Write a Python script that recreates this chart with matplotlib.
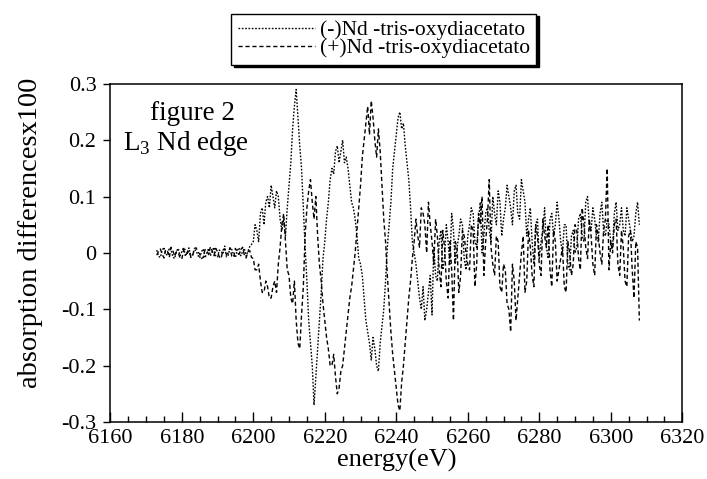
"""L3 Nd edge absorption difference of the two tris-oxydiacetato enantiomers."""

import matplotlib

matplotlib.use("Agg")
import matplotlib.pyplot as plt
import numpy as np
from matplotlib.ticker import FuncFormatter, MultipleLocator

# scan runs 6173 -> 6308 eV in 0.5 eV steps; the readings are split into
# whole-eV points and the half-eV points between them
E_START, E_STOP = 6173, 6308

# (-)Nd -tris-oxydiacetato, whole eV
minus_nd = [
    0.005, -0.008, 0.010, -0.004, 0.006, -0.010, 0.008, 0.002, -0.006, 0.009,
    -0.003, 0.004, -0.009, 0.007, 0.000, -0.005, 0.010, -0.007, 0.003, 0.012,
    -0.004, 0.006, -0.008, 0.009, 0.002, -0.006, 0.011,
    0.02, 0.04, 0.07, 0.05, 0.10, 0.12, 0.08, 0.10, 0.04, 0.03,
    0.12, 0.22, 0.29, 0.19, 0.08, -0.05, -0.16, -0.27, -0.17, -0.07,
    0.02, 0.09, 0.15, 0.18, 0.16, 0.20, 0.17, 0.12, 0.08, 0.03,
    -0.02, -0.08, -0.14, -0.19, -0.17, -0.21, -0.13, -0.05, 0.05, 0.15,
    0.21, 0.25, 0.23, 0.16, 0.08, 0.00,
    -0.05, -0.10, -0.12, -0.07, -0.11, -0.04, 0.02, -0.03, 0.05, -0.02,
    0.04, 0.01, 0.06, -0.01, 0.03, 0.08, 0.02, 0.06, 0.00, 0.07,
    0.04, 0.10, 0.05, 0.09, 0.06, 0.12, 0.08, 0.11, 0.07, 0.13,
    0.09, 0.06, 0.02, 0.05, -0.01, 0.04, 0.01, 0.06, 0.03, 0.09,
    0.02, 0.05, -0.02, 0.03, 0.00, 0.06, 0.03, 0.09, 0.05, 0.08,
    0.03, 0.07, 0.04, 0.06, 0.02, 0.07, 0.04, 0.08, 0.03, 0.06,
    0.02, 0.07, 0.05,
]
# (-)Nd, half eV
minus_nd_half = [
    -0.006, 0.004, -0.002, 0.009, -0.007, 0.003, -0.005, 0.010, 0.001, -0.008,
    0.006, -0.004, 0.002, -0.009, 0.008, 0.003, -0.006, 0.005, -0.002, -0.007,
    0.009, -0.003, 0.004, -0.005, 0.008, 0.003, 0.015,
    0.05, 0.02, 0.08, 0.09, 0.08, 0.10, 0.11, 0.06, 0.06, 0.08,
    0.16, 0.26, 0.24, 0.15, 0.01, -0.12, -0.20, -0.22, -0.12, -0.01,
    0.06, 0.13, 0.14, 0.19, 0.18, 0.16, 0.15, 0.09, 0.06, -0.01,
    -0.04, -0.12, -0.16, -0.15, -0.20, -0.16, -0.10, 0.01, 0.09, 0.18,
    0.24, 0.22, 0.19, 0.13, 0.02,
    -0.02, -0.08, -0.06, -0.10, -0.04, 0.01, -0.05, 0.04, -0.01, 0.02,
    0.07, -0.02, 0.03, 0.05, -0.03, 0.05, 0.07, 0.01, 0.09, 0.03,
    0.08, 0.02, 0.07, 0.11, 0.03, 0.08, 0.10, 0.05, 0.12, 0.06,
    0.11, 0.03, 0.08, -0.02, 0.06, 0.02, 0.08, -0.01, 0.07, 0.05,
    0.06, 0.00, 0.05, -0.03, 0.04, 0.01, 0.07, 0.02, 0.10, 0.04,
    0.06, 0.02, 0.09, 0.03, 0.05, 0.01, 0.09, 0.05, 0.04, 0.08,
    0.04, 0.03, 0.09,
]

# (+)Nd -tris-oxydiacetato, whole eV
plus_nd = [
    -0.004, 0.007, -0.009, 0.003, 0.010, -0.006, 0.001, -0.011, 0.006, 0.004,
    -0.007, 0.009, -0.002, -0.008, 0.005, 0.011, -0.005, 0.002, -0.010, 0.007,
    0.000, -0.006, 0.008, -0.003, 0.010, -0.009, 0.004,
    -0.01, -0.03, -0.05, -0.07, -0.06, -0.08, -0.05, -0.02, 0.05, 0.02,
    -0.04, -0.09, -0.12, -0.17, -0.06, 0.08, 0.13, 0.06, 0.03, -0.05,
    -0.12, -0.17, -0.20, -0.22, -0.24, -0.20, -0.14, -0.08, -0.03, 0.04,
    0.12, 0.20, 0.26, 0.27, 0.20, 0.22, 0.12, 0.02, -0.09, -0.18,
    -0.24, -0.28, -0.20, -0.12, -0.05, 0.02,
    0.03, 0.08, 0.05, 0.09, 0.02, 0.06, -0.03, 0.04, -0.05, 0.02,
    -0.12, 0.01, -0.04, 0.03, -0.02, 0.05, -0.06, 0.07, 0.10, 0.02,
    0.13, -0.02, 0.03, -0.06, -0.02, -0.09, -0.14, -0.05, -0.08, 0.00,
    -0.07, 0.04, -0.04, 0.05, -0.02, 0.06, 0.01, -0.03, 0.04, -0.05,
    -0.01, -0.06, 0.02, -0.04, 0.05, -0.01, 0.08, 0.01, 0.06, -0.02,
    0.05, 0.00, 0.04, 0.15, 0.02, 0.05, -0.02, 0.04, -0.05, 0.03,
    -0.03, 0.02, -0.12,
]
# (+)Nd, half eV
plus_nd_half = [
    0.003, -0.002, 0.006, -0.008, 0.004, 0.002, -0.009, 0.005, -0.001, -0.006,
    0.008, 0.002, -0.010, 0.006, -0.003, 0.004, 0.008, -0.007, 0.005, -0.003,
    0.009, -0.008, 0.001, 0.006, -0.004, 0.002, -0.008,
    -0.03, -0.02, -0.07, -0.05, -0.08, -0.06, -0.07, 0.01, 0.07, -0.03,
    -0.08, -0.05, -0.16, -0.11, 0.03, 0.11, 0.09, 0.10, -0.02, -0.09,
    -0.15, -0.20, -0.18, -0.25, -0.21, -0.17, -0.11, -0.06, 0.00, 0.08,
    0.17, 0.23, 0.21, 0.24, 0.17, 0.18, 0.06, -0.04, -0.14, -0.21,
    -0.27, -0.23, -0.16, -0.08, -0.01,
    0.06, 0.01, 0.07, 0.00, 0.05, -0.02, 0.03, -0.06, 0.01, -0.08,
    -0.03, 0.02, -0.07, 0.04, 0.00, -0.03, 0.04, -0.02, 0.05, -0.04,
    0.06, 0.01, -0.04, 0.02, -0.07, -0.03, -0.10, -0.02, -0.12, -0.04,
    0.03, -0.05, 0.01, -0.06, 0.03, -0.04, 0.03, 0.05, -0.06, 0.02,
    -0.03, 0.01, -0.07, 0.00, -0.02, 0.04, -0.03, 0.05, -0.01, 0.03,
    -0.04, 0.03, -0.02, 0.06, -0.03, 0.00, 0.06, -0.04, 0.01, -0.06,
    0.04, -0.08, 0.01,
]

labels = ["(-)Nd -tris-oxydiacetato", "(+)Nd -tris-oxydiacetato"]


def merge(whole: list[float], half: list[float]) -> np.ndarray:
    values = np.empty(len(whole) + len(half))
    values[0::2] = whole
    values[1::2] = half
    return values


def main() -> None:
    plt.rcParams["font.family"] = ["Liberation Serif", "DejaVu Serif"]
    plt.rcParams["mathtext.fontset"] = "custom"
    plt.rcParams["mathtext.rm"] = "Liberation Serif"

    energy = np.arange(E_START, E_STOP + 0.25, 0.5)
    fig = plt.figure(figsize=(7.07, 4.79), dpi=100)
    ax = fig.add_axes([0.156, 0.119, 0.809, 0.706])

    ax.plot(energy, merge(minus_nd, minus_nd_half), color="black", linewidth=1.0,
            linestyle=(0, (1.2, 1.2)), label=labels[0])
    ax.plot(energy, merge(plus_nd, plus_nd_half), color="black", linewidth=1.0,
            linestyle=(0, (3, 2)), label=labels[1])

    ax.set_xlim(6160, 6320)
    ax.set_ylim(-0.3, 0.3)
    ax.xaxis.set_major_locator(MultipleLocator(20))
    ax.xaxis.set_minor_locator(MultipleLocator(5))
    ax.yaxis.set_major_locator(MultipleLocator(0.1))
    ax.yaxis.set_major_formatter(
        FuncFormatter(lambda v, _: "0" if abs(v) < 1e-9 else f"{v:.1f}")
    )
    ax.tick_params(axis="x", which="major", direction="in", length=7, width=1,
                   labelsize=16, pad=5)
    ax.tick_params(axis="x", which="minor", direction="in", length=4, width=1)
    ax.tick_params(axis="y", direction="out", length=5, width=1, labelsize=16,
                   pad=5)
    for spine in ax.spines.values():
        spine.set_linewidth(1.1)

    ax.set_xlabel("energy(eV)", fontsize=19, labelpad=1)
    ax.set_ylabel("absorption differencesx100", fontsize=20.5)
    ax.yaxis.set_label_coords(-0.118, 0.56)

    ax.text(0.07, 0.95, "figure 2", transform=ax.transAxes, fontsize=19.5, va="top")
    ax.text(0.022, 0.865, r"L$_3$ Nd edge", transform=ax.transAxes, fontsize=19.5,
            va="top")

    fig.legend(
        loc="upper center",
        bbox_to_anchor=(0.543, 0.994),
        fontsize=15.5,
        handlelength=3.6,
        handletextpad=0.2,
        labelspacing=-0.1,
        borderpad=0.3,
        fancybox=False,
        edgecolor="black",
        framealpha=1,
        shadow={"color": "black", "alpha": 1},
    )

    fig.savefig("out.png", dpi=100, facecolor="white")
    plt.close(fig)


if __name__ == "__main__":
    main()
